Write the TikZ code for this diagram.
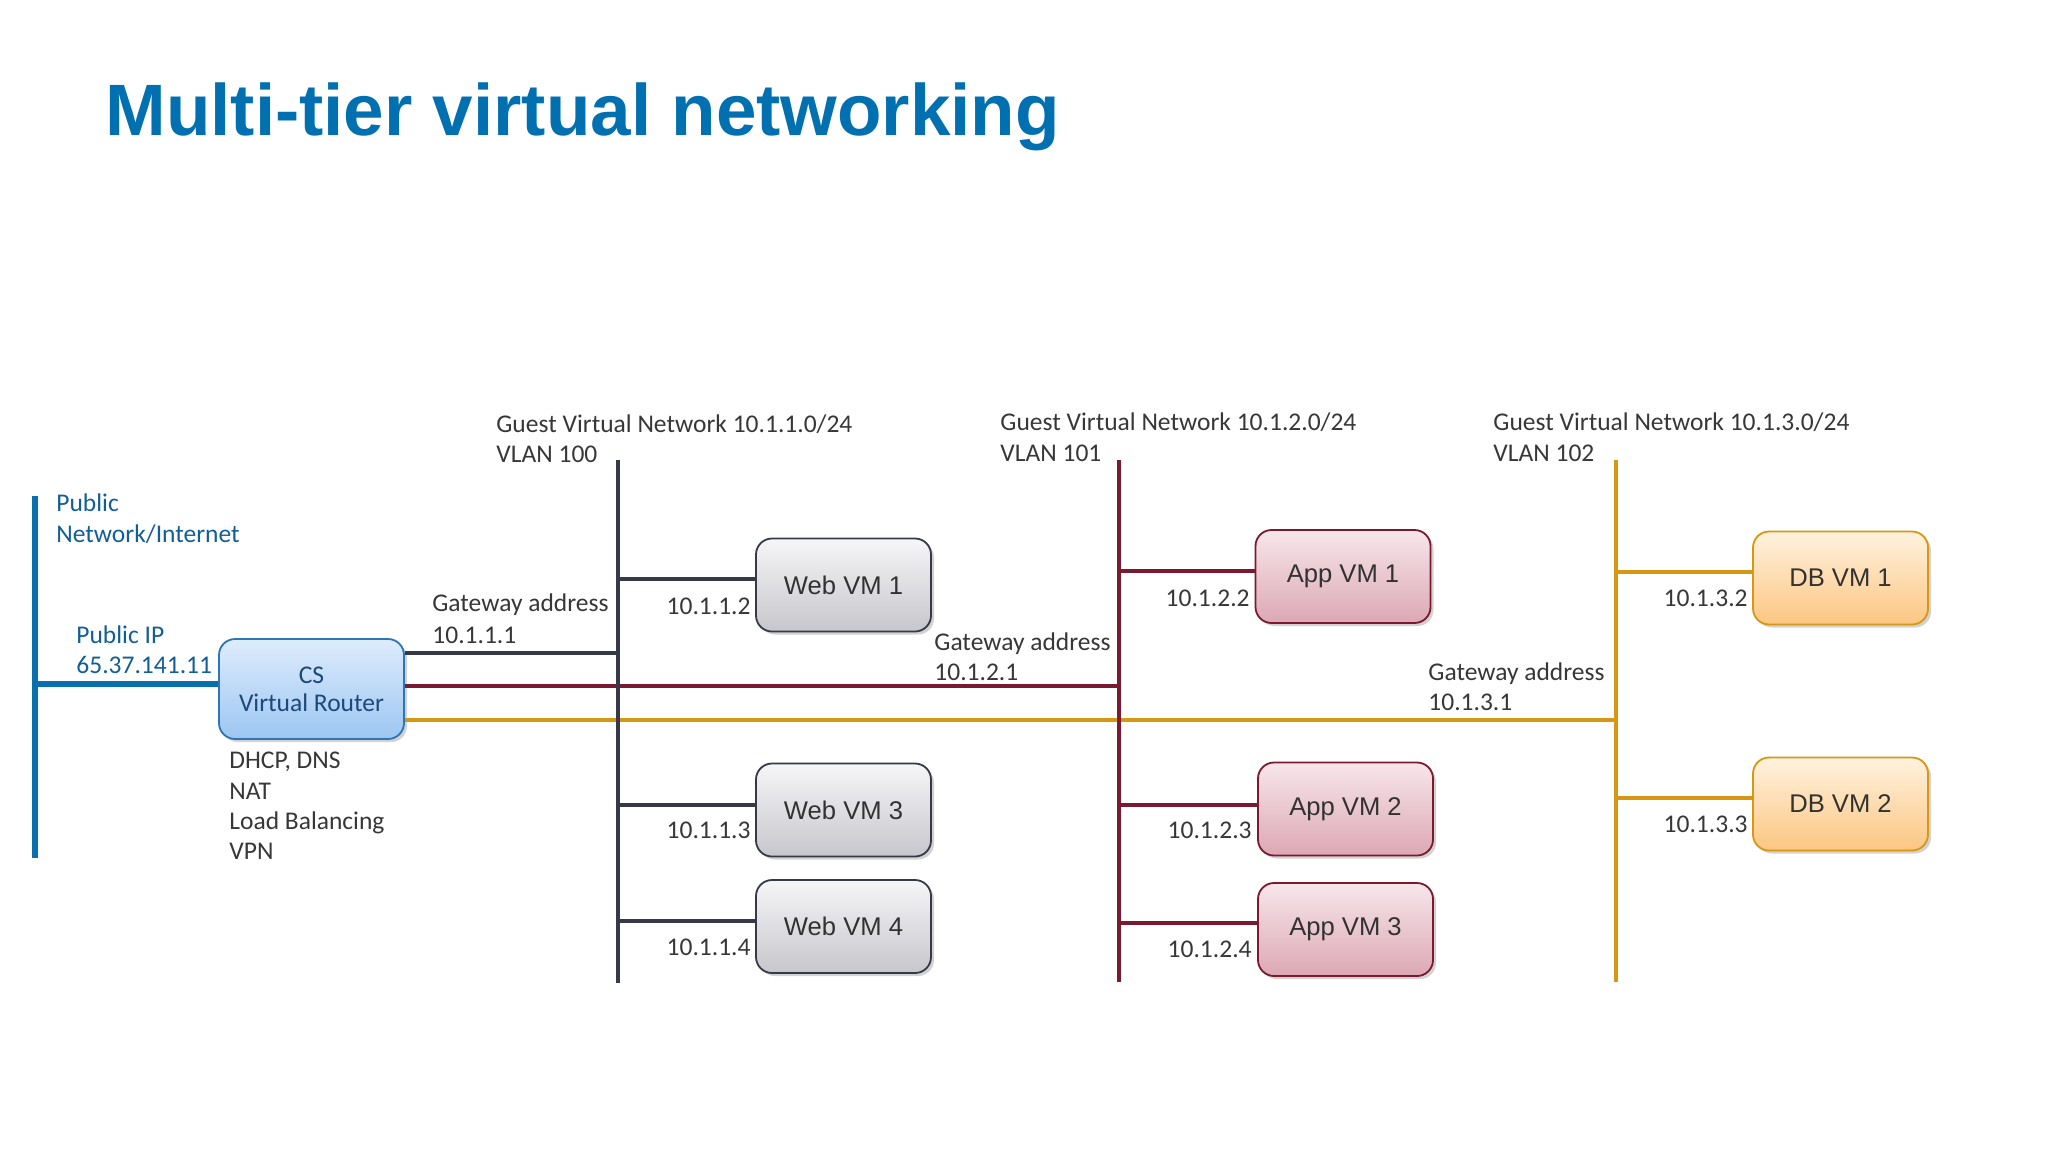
\documentclass[tikz,border=0pt]{standalone}
\usepackage{fontspec}
\setmainfont{Carlito}
\newfontfamily\arialf{Liberation Sans}
\usetikzlibrary{shadows}
\definecolor{titleblue}{RGB}{0,112,176}
\definecolor{publine}{RGB}{8,112,172}
\definecolor{pubtext}{RGB}{18,94,150}
\definecolor{darkbus}{RGB}{54,57,72}
\definecolor{redbus}{RGB}{122,26,48}
\definecolor{goldbus}{RGB}{214,152,18}
\definecolor{labelgray}{RGB}{55,55,55}
\definecolor{routertext}{RGB}{28,72,122}
\definecolor{boxtext}{RGB}{50,50,50}
\definecolor{webtop}{RGB}{246,246,248}
\definecolor{webbot}{RGB}{198,198,204}
\definecolor{apptop}{RGB}{247,230,234}
\definecolor{appbot}{RGB}{220,168,180}
\definecolor{dbtop}{RGB}{255,242,222}
\definecolor{dbbot}{RGB}{252,198,130}
\definecolor{cstop}{RGB}{222,236,252}
\definecolor{csbot}{RGB}{156,198,242}
\definecolor{csborder}{RGB}{46,117,182}
\tikzset{
  lbl/.style={font=\fontsize{12.75}{15}\selectfont, text=labelgray, inner sep=0pt},
  publbl/.style={lbl, text=pubtext},
  vmbox/.style={rounded corners=8pt, minimum width=87.5pt, minimum height=46.5pt,
    line width=0.9pt, font=\arialf\fontsize{12.8}{15}\selectfont, text=boxtext,
    drop shadow={shadow xshift=1.5pt, shadow yshift=-1.5pt, opacity=0.35}},
  webbox/.style={vmbox, draw=darkbus, top color=webtop, bottom color=webbot},
  appbox/.style={vmbox, draw=redbus, top color=apptop, bottom color=appbot},
  dbbox/.style={vmbox, draw=goldbus, top color=dbtop, bottom color=dbbot},
  csbox/.style={vmbox, draw=csborder, top color=cstop, bottom color=csbot,
    minimum width=92.5pt, minimum height=50pt, text=routertext, align=center,
    font=\fontsize{12.75}{15}\selectfont},
  busdark/.style={draw=darkbus, line width=2pt},
  busred/.style={draw=redbus, line width=2pt},
  busgold/.style={draw=goldbus, line width=2pt},
  buspub/.style={draw=publine, line width=2.6pt},
}
\begin{document}
\begin{tikzpicture}[x=0.5pt, y=-0.5pt]
\useasboundingbox (0,0) rectangle (2048,1152);
\fill[white] (0,0) rectangle (2048,1152);

% title
\node[anchor=base west, inner sep=0pt, text=titleblue, font=\arialf\bfseries\fontsize{36.4}{40}\selectfont] (title) at (105,135) {Multi-tier virtual networking};

% coordinates of buses
\coordinate (pubtop) at (35,496);
\coordinate (pubbot) at (35,858);
\coordinate (pubtap) at (35,684);
\coordinate (b1top) at (618,460);
\coordinate (b1bot) at (618,983);
\coordinate (b2top) at (1119,460);
\coordinate (b2bot) at (1119,982);
\coordinate (b3top) at (1616,460);
\coordinate (b3bot) at (1616,982);
\coordinate (g1) at (618,653);
\coordinate (g2) at (1119,686);
\coordinate (g3) at (1616,720);

% nodes
\node[csbox] (router) at (311.5,689) {CS\\[-1pt]Virtual Router};

\node[webbox] (web1) at (843.5,585) {Web VM 1};
\node[webbox] (web3) at (843.5,810) {Web VM 3};
\node[webbox] (web4) at (843.5,926.5) {Web VM 4};

\node[appbox] (app1) at (1343,576.5) {App VM 1};
\node[appbox] (app2) at (1345.5,809) {App VM 2};
\node[appbox] (app3) at (1345.5,929.5) {App VM 3};

\node[dbbox] (db1) at (1840.5,578) {DB VM 1};
\node[dbbox] (db2) at (1840.5,804) {DB VM 2};

% router links (below the buses)
\draw[busdark] (router.east |- g1) -- (g1);
\draw[busred] (router.east |- g2) -- (g2);
\draw[busgold] (router.east |- g3) -- (g3);
\draw[buspub] (pubtap) -- (router.west |- pubtap);

% taps
\coordinate (t12) at (618,579);
\coordinate (t13) at (618,805);
\coordinate (t14) at (618,921);
\coordinate (t22) at (1119,571);
\coordinate (t23) at (1119,805);
\coordinate (t24) at (1119,923);
\coordinate (t32) at (1616,572);
\coordinate (t33) at (1616,798);
\draw[busdark] (t12) -- (web1.west |- t12);
\draw[busdark] (t13) -- (web3.west |- t13);
\draw[busdark] (t14) -- (web4.west |- t14);
\draw[busred] (t22) -- (app1.west |- t22);
\draw[busred] (t23) -- (app2.west |- t23);
\draw[busred] (t24) -- (app3.west |- t24);
\draw[busgold] (t32) -- (db1.west |- t32);
\draw[busgold] (t33) -- (db2.west |- t33);

% buses
\draw[buspub] (pubtop) -- (pubbot);
\draw[busdark] (b1top) -- (b1bot);
\draw[busred] (b2top) -- (b2bot);
\draw[busgold] (b3top) -- (b3bot);

% public labels
\node[publbl, anchor=base west] (pub1) at (56,511) {Public};
\node[publbl, anchor=base west] (pub2) at (56,542) {Network/Internet};
\node[publbl, anchor=base west] (pip1) at (76,643) {Public IP};
\node[publbl, anchor=base west] (pip2) at (76,673) {65.37.141.11};

% router services
\node[lbl, anchor=base west] (svc1) at (229,768) {DHCP, DNS};
\node[lbl, anchor=base west] (svc2) at (229,799) {NAT};
\node[lbl, anchor=base west] (svc3) at (229,829) {Load Balancing};
\node[lbl, anchor=base west] (svc4) at (229,859) {VPN};

% network headings
\node[lbl, anchor=base west] (n1a) at (496,432) {Guest Virtual Network 10.1.1.0/24};
\node[lbl, anchor=base west] (n1b) at (496,462) {VLAN 100};
\node[lbl, anchor=base west] (n2a) at (1000,430) {Guest Virtual Network 10.1.2.0/24};
\node[lbl, anchor=base west] (n2b) at (1000,461) {VLAN 101};
\node[lbl, anchor=base west] (n3a) at (1493,430) {Guest Virtual Network 10.1.3.0/24};
\node[lbl, anchor=base west] (n3b) at (1493,461) {VLAN 102};

% gateways
\node[lbl, anchor=base west] (gw1a) at (432,611) {Gateway address};
\node[lbl, anchor=base west] (gw1b) at (432,643) {10.1.1.1};
\node[lbl, anchor=base west] (gw2a) at (934,650) {Gateway address};
\node[lbl, anchor=base west] (gw2b) at (934,680) {10.1.2.1};
\node[lbl, anchor=base west] (gw3a) at (1428,680) {Gateway address};
\node[lbl, anchor=base west] (gw3b) at (1428,710) {10.1.3.1};

% host addresses
\node[lbl, anchor=base east] (a12) at (751,614) {10.1.1.2};
\node[lbl, anchor=base east] (a13) at (751,838) {10.1.1.3};
\node[lbl, anchor=base east] (a14) at (751,955) {10.1.1.4};
\node[lbl, anchor=base east] (a22) at (1250,606) {10.1.2.2};
\node[lbl, anchor=base east] (a23) at (1252,838) {10.1.2.3};
\node[lbl, anchor=base east] (a24) at (1252,957) {10.1.2.4};
\node[lbl, anchor=base east] (a32) at (1748,606) {10.1.3.2};
\node[lbl, anchor=base east] (a33) at (1748,832) {10.1.3.3};
\end{tikzpicture}
\end{document}
